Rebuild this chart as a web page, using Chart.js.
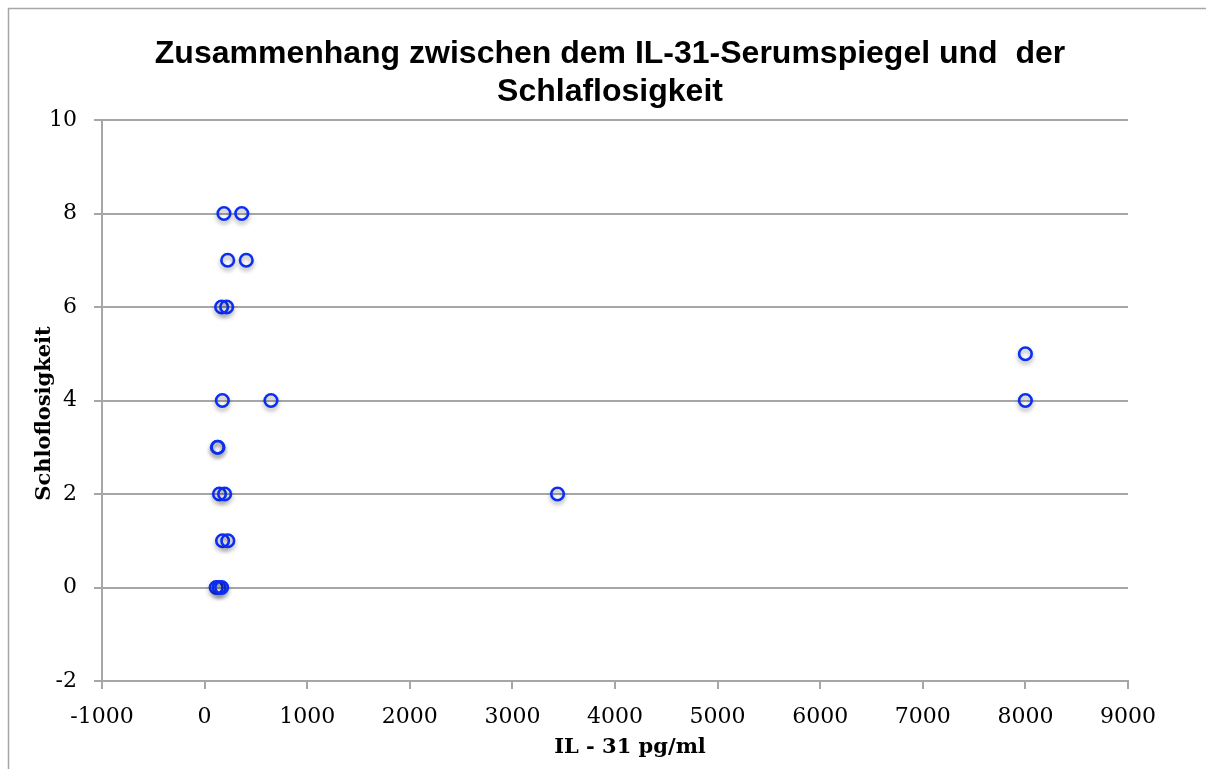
<!DOCTYPE html>
<html>
<head>
<meta charset="utf-8">
<script src="https://cdn.jsdelivr.net/npm/chart.js@4"></script>
<style>
  html, body { margin: 0; padding: 0; background: #fff; }
  #wrap { width: 1206px; height: 769px; position: relative; }
</style>
</head>
<body>
<div id="wrap"><canvas id="chartCanvas"></canvas></div>
<script>
// IL-31 Serumspiegel (pg/ml) und Schlaflosigkeit je Patient
const il31 = [189, 362, 225, 406, 166, 215, 173, 647, 125, 130, 145, 195, 3440, 175, 226, 113, 141, 166, 8000, 8000];
const schlaflosigkeit = [8, 8, 7, 7, 6, 6, 4, 4, 3, 3, 2, 2, 2, 1, 1, 0, 0, 0, 5, 4];

const xTicks = [-1000, 0, 1000, 2000, 3000, 4000, 5000, 6000, 7000, 8000, 9000];
const yTicks = [-2, 0, 2, 4, 6, 8, 10];

const titel = ['Zusammenhang zwischen dem IL-31-Serumspiegel und  der', 'Schlaflosigkeit'];
const xTitel = 'IL - 31 pg/ml';
const yTitel = 'Schloflosigkeit';

const punkte = il31.map((v, i) => ({ x: v, y: schlaflosigkeit[i] }));

const grau = '#a6a6a6';
const serif = "'DejaVu Serif', 'Liberation Serif', serif";

// Rahmen oben und links wie im Original
const rahmen = {
    id: 'rahmen',
    beforeDraw(chart) {
        const c = chart.ctx;
        c.save();
        c.strokeStyle = grau;
        c.lineWidth = 1.5;
        c.beginPath();
        c.moveTo(8.5, chart.height);
        c.lineTo(8.5, 8.5);
        c.lineTo(chart.width, 8.5);
        c.stroke();
        c.restore();
    }
};

// Titel und Achsentitel, leicht versetzt wie im Original
const beschriftung = {
    id: 'beschriftung',
    afterDraw(chart) {
        const c = chart.ctx;
        const area = chart.chartArea;
        c.save();
        c.fillStyle = '#000';
        c.textAlign = 'center';
        c.textBaseline = 'alphabetic';
        c.font = "bold 32px 'Liberation Sans', Arial, sans-serif";
        titel.forEach((zeile, i) => c.fillText(zeile, 610, 63 + i * 37.5));

        c.font = 'bold 21px ' + serif;
        c.textBaseline = 'middle';
        c.fillText(xTitel, (area.left + area.right) / 2 + 15, 748);

        c.translate(45, (area.top + area.bottom) / 2 + 13);
        c.rotate(-Math.PI / 2);
        c.fillText(yTitel, 0, 0);
        c.restore();
    }
};

// leichter Schatten unter den Kreisen
const schatten = {
    id: 'schatten',
    beforeDatasetsDraw(chart) {
        const c = chart.ctx;
        c.save();
        c.shadowColor = 'rgba(0, 0, 0, 0.35)';
        c.shadowBlur = 4;
        c.shadowOffsetY = 3;
    },
    afterDatasetsDraw(chart) {
        chart.ctx.restore();
    }
};

const ctx = document.getElementById('chartCanvas').getContext('2d');
const chart = new Chart(ctx, {
    type: 'scatter',
    data: {
        datasets: [{
            label: 'Schlaflosigkeit',
            data: punkte,
            pointStyle: 'circle',
            pointRadius: 6.3,
            pointHoverRadius: 6.3,
            borderWidth: 2.6,
            borderColor: '#0b2ef5',
            backgroundColor: 'rgba(255, 255, 255, 0)'
        }]
    },
    options: {
        responsive: true,
        maintainAspectRatio: false,
        animation: false,
        layout: {
            padding: { left: 10, right: 78, top: 120, bottom: 0 }
        },
        scales: {
            x: {
                type: 'linear',
                min: -1000,
                max: 9000,
                afterBuildTicks: (scale) => { scale.ticks = xTicks.map(v => ({ value: v })); },
                afterFit: (scale) => { scale.height = 88; },
                grid: {
                    drawOnChartArea: false,
                    drawTicks: true,
                    tickLength: 8,
                    color: grau,
                    lineWidth: 2
                },
                border: { color: grau, width: 2 },
                ticks: {
                    color: '#000',
                    padding: 15,
                    maxRotation: 0,
                    callback: (v) => String(v),
                    font: { family: serif, size: 22 }
                }
            },
            y: {
                type: 'linear',
                min: -2,
                max: 10,
                afterBuildTicks: (scale) => { scale.ticks = yTicks.map(v => ({ value: v })); },
                afterFit: (scale) => { scale.width = 92; },
                grid: {
                    drawOnChartArea: true,
                    drawTicks: true,
                    tickLength: 8,
                    color: grau,
                    lineWidth: 2
                },
                border: { color: grau, width: 2 },
                ticks: {
                    color: '#000',
                    padding: 17,
                    callback: (v) => String(v),
                    font: { family: serif, size: 22 }
                }
            }
        },
        plugins: {
            legend: { display: false },
            tooltip: { enabled: false },
            title: { display: false }
        }
    },
    plugins: [rahmen, beschriftung, schatten]
});
</script>
</body>
</html>
